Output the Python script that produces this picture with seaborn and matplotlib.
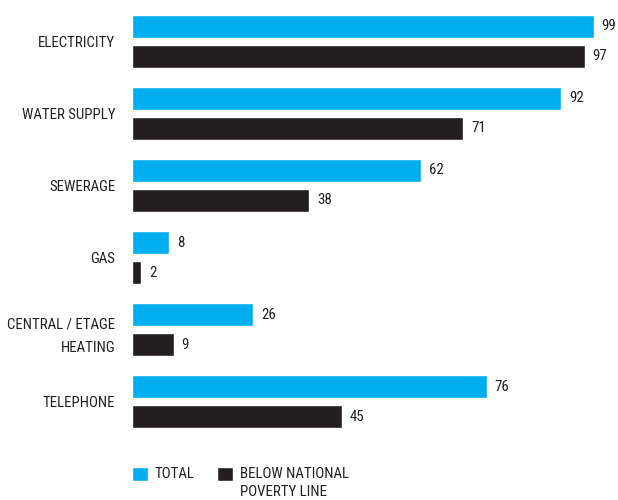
import matplotlib

matplotlib.use("Agg")
import matplotlib.pyplot as plt
import pandas as pd
import seaborn as sns

services = [
    "ELECTRICITY",
    "WATER SUPPLY",
    "SEWERAGE",
    "GAS",
    "CENTRAL / ETAGE\nHEATING",
    "TELEPHONE",
]
total = [99, 92, 62, 8, 26, 76]
below_poverty = [97, 71, 38, 2, 9, 45]
groups = ["TOTAL", "BELOW NATIONAL\nPOVERTY LINE"]

CYAN = "#00AEEF"
DARK = "#231F20"
FONT_SIZE = 10.75

sns.set_theme(style="white")
plt.rcParams["font.family"] = ["Roboto Condensed", "Liberation Sans Narrow", "Roboto", "DejaVu Sans"]
plt.rcParams["text.color"] = DARK

frame = pd.DataFrame(
    {
        "service": services * 2,
        "value": total + below_poverty,
        "group": [groups[0]] * len(services) + [groups[1]] * len(services),
    }
)

fig = plt.figure(figsize=(6.18, 5.0), dpi=100)
ax = fig.add_axes([132 / 618, 1 - 438 / 500, 466.7 / 618, 433 / 500])

sns.barplot(
    data=frame,
    y="service",
    x="value",
    hue="group",
    orient="h",
    palette=[CYAN, DARK],
    width=0.83,
    gap=0.23,
    saturation=1,
    ax=ax,
)

for container in ax.containers:
    ax.bar_label(container, padding=5.5, fontsize=FONT_SIZE, color=DARK, clip_on=False)

ax.set_xlim(0, 100)
ax.set_ylim(5.5, -0.5)
ax.set_xlabel("")
ax.set_ylabel("")
ax.set_xticks([])
sns.despine(ax=ax, left=True, bottom=True)
ax.tick_params(axis="y", length=0, pad=12, labelsize=FONT_SIZE, labelcolor=DARK)
for label in ax.get_yticklabels():
    label.set_linespacing(1.9)

handles, labels = ax.get_legend_handles_labels()
ax.get_legend().remove()
leg = fig.legend(
    handles,
    labels,
    loc="upper left",
    bbox_to_anchor=(132 / 618, 1 - 467 / 500),
    ncol=2,
    frameon=False,
    fontsize=FONT_SIZE,
    handlelength=1.07,
    handleheight=1.07,
    handletextpad=0.47,
    columnspacing=1.5,
    borderaxespad=0,
    borderpad=0,
)
for text in leg.get_texts():
    text.set_linespacing(1.35)
# keep the squares level with the first line of the labels
leg._legend_handle_box.align = "top"
for column in leg._legend_handle_box.get_children():
    for row in column.get_children():
        row.align = "top"

fig.savefig("out.png", dpi=100)
